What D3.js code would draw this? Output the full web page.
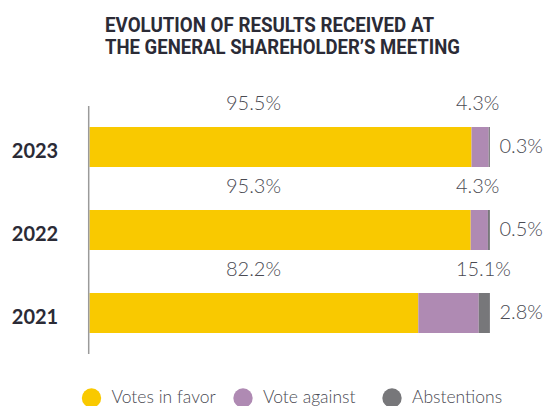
<!DOCTYPE html>
<meta charset="utf-8">
<script src="https://cdn.jsdelivr.net/npm/d3@7"></script>
<style>
body { margin: 0; background: #fff; }
.title { font-family: "Liberation Sans Narrow", "Roboto", sans-serif; font-weight: bold; font-size: 20px; fill: #2b2b36; }
.year { font-family: Lato, "Open Sans", sans-serif; font-weight: bold; font-size: 20px; fill: #2b2b36; }
.pct { font-family: Lato, "Open Sans", sans-serif; font-weight: 300; font-size: 20px; fill: #4a4a52; }
.legend text { font-family: Lato, "Open Sans", sans-serif; font-weight: 300; font-size: 17.5px; fill: #4a4a52; }
</style>
<body>
<script>
var years = ["2023", "2022", "2021"];
var favor = [95.5, 95.3, 82.2];
var against = [4.3, 4.3, 15.1];
var abstain = [0.3, 0.5, 2.8];
var seriesNames = ["Votes in favor", "Vote against", "Abstentions"];
var colors = ["#f9c900", "#af8ab3", "#77777a"];

var width = 547, height = 406;

var svg = d3.select("body").append("svg")
    .attr("width", width)
    .attr("height", height);

// title
svg.append("text").attr("class", "title").attr("x", 105).attr("y", 32)
   .attr("textLength", 329).attr("lengthAdjust", "spacingAndGlyphs")
   .text("EVOLUTION OF RESULTS RECEIVED AT");
svg.append("text").attr("class", "title").attr("x", 105).attr("y", 54)
   .attr("textLength", 355).attr("lengthAdjust", "spacingAndGlyphs")
   .text("THE GENERAL SHAREHOLDER\u2019S MEETING");

var x = d3.scaleLinear().domain([0, 100]).range([89.5, 489.5]);
var y = d3.scaleBand().domain(years).range([127, 333]).paddingInner(43 / 83).paddingOuter(0);

var rows = years.map(function(yr, i) {
  return {year: yr, favor: favor[i], against: against[i], abstain: abstain[i]};
});
var stack = d3.stack().keys(["favor", "against", "abstain"]);
var layers = stack(rows);

svg.append("g").selectAll("g")
    .data(layers)
    .enter().append("g")
    .attr("fill", function(d, i) { return colors[i]; })
    .selectAll("rect")
    .data(function(d) { return d; })
    .enter().append("rect")
    .attr("x", function(d) { return x(d[0]); })
    .attr("width", function(d) { return x(d[1]) - x(d[0]); })
    .attr("y", function(d) { return y(d.data.year); })
    .attr("height", y.bandwidth());

// axis line
var yr = y.range();
svg.append("line")
    .attr("x1", 88.7).attr("x2", 88.7)
    .attr("y1", yr[0] - 21).attr("y2", yr[1] + 21)
    .attr("stroke", "#9a9a9a").attr("stroke-width", 1.5);

// year labels
svg.selectAll(".year")
    .data(rows).enter().append("text")
    .attr("class", "year")
    .attr("x", 35)
    .attr("y", function(d) { return y(d.year) + y.bandwidth() / 2 + 10.5; })
    .attr("text-anchor", "middle")
    .text(function(d) { return d.year; });

// value labels
var fmt = function(v) { return v.toFixed(1) + "%"; };
var lab = svg.append("g");
rows.forEach(function(d) {
  var top = y(d.year);
  lab.append("text").attr("class", "pct")
     .attr("x", x(41)).attr("y", top - 17).attr("text-anchor", "middle")
     .text(fmt(d.favor));
  lab.append("text").attr("class", "pct")
     .attr("x", x(91.6)).attr("y", top - 17)
     .text(fmt(d.against));
  lab.append("text").attr("class", "pct")
     .attr("x", x(100) + 10).attr("y", top + y.bandwidth() / 2 + 6)
     .text(fmt(d.abstain));
});

// legend
var lx = [91.5, 243, 392];
var legend = svg.append("g").attr("class", "legend")
    .selectAll("g").data(seriesNames).enter().append("g")
    .attr("transform", function(d, i) { return "translate(" + lx[i] + ",398)"; });
legend.append("circle").attr("r", 9.7).attr("fill", function(d, i) { return colors[i]; });
legend.append("text").attr("x", 20).attr("y", 5).text(function(d) { return d; });
</script>
</body>
